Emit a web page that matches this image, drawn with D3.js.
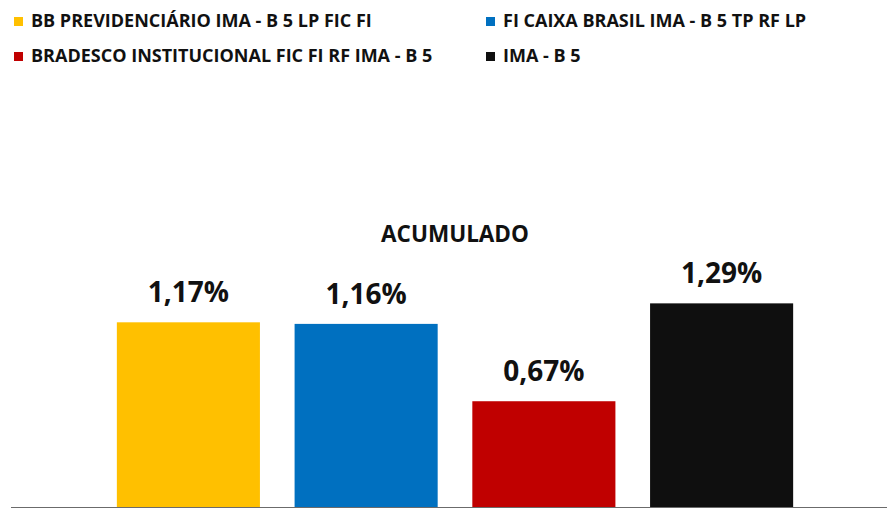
<!DOCTYPE html>
<html>
<head>
<meta charset="utf-8">
<script src="https://cdn.jsdelivr.net/npm/d3@7"></script>
<style>
  body { margin: 0; background: #fff; }
  text { font-family: "Open Sans", Lato, sans-serif; font-weight: bold; fill: #111; }
</style>
</head>
<body>
<script>
const w = 887
const h = 508

// chart data
const funds = [
  'BB PREVIDENCIÁRIO IMA - B 5 LP FIC FI',
  'FI CAIXA BRASIL IMA - B 5 TP RF LP',
  'BRADESCO INSTITUCIONAL FIC FI RF IMA - B 5',
  'IMA - B 5'
]
const acumulado = [1.17, 1.16, 0.67, 1.29]
const colors = ['#FFC000', '#0070C0', '#C00000', '#0F0F0F']
const title = 'ACUMULADO'

const fmt = v => d3.format('.2f')(v).replace('.', ',') + '%'

const svg = d3.select('body')
  .append('svg')
  .attr('width', w)
  .attr('height', h)

// legend, two columns
const legend = svg.append('g')
funds.forEach((name, i) => {
  const col = i % 2
  const row = Math.floor(i / 2)
  const g = legend.append('g')
    .attr('transform', `translate(${col === 0 ? 14 : 486},${row === 0 ? 17 : 52})`)
  g.append('rect')
    .attr('width', 9)
    .attr('height', 9)
    .attr('fill', colors[i])
  g.append('text')
    .attr('x', 17)
    .attr('y', 10)
    .attr('font-size', 18)
    .text(name)
})

const xScale = d3.scaleBand()
  .domain(funds)
  .range([23, 887])
  .paddingInner(0.195)
  .paddingOuter(0.528)

const yScale = d3.scaleLinear()
  .domain([0, 1.4])
  .range([507, 286])

svg.append('text')
  .attr('x', 455)
  .attr('y', 242)
  .attr('text-anchor', 'middle')
  .attr('font-size', 22.5)
  .text(title)

svg.selectAll('rect.bar')
  .data(acumulado)
  .enter()
  .append('rect')
  .attr('class', 'bar')
  .attr('x', (d, i) => xScale(funds[i]))
  .attr('y', d => yScale(d))
  .attr('width', xScale.bandwidth())
  .attr('height', d => yScale(0) - yScale(d))
  .attr('fill', (d, i) => colors[i])

svg.selectAll('text.lbl')
  .data(acumulado)
  .enter()
  .append('text')
  .attr('class', 'lbl')
  .attr('x', (d, i) => xScale(funds[i]) + xScale.bandwidth() / 2)
  .attr('y', d => yScale(d) - 20)
  .attr('text-anchor', 'middle')
  .attr('font-size', 28)
  .text(d => fmt(d))

// baseline
svg.append('line')
  .attr('x1', 11)
  .attr('x2', w)
  .attr('y1', yScale(0) + 0.5)
  .attr('y2', yScale(0) + 0.5)
  .attr('stroke', '#6b6b6b')
  .attr('stroke-width', 1.2)
</script>
</body>
</html>
